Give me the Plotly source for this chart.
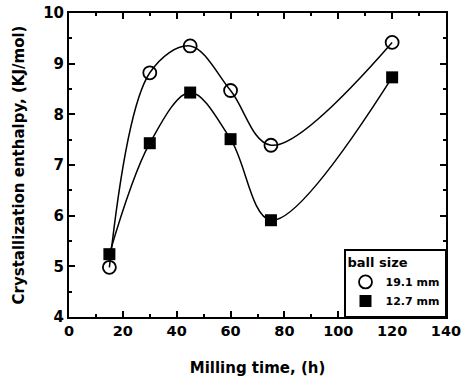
import plotly.graph_objects as go

milling_time = [15, 30, 45, 60, 75, 120]
enthalpy_19_1 = [4.98, 8.82, 9.35, 8.47, 7.39, 9.42]
enthalpy_12_7 = [5.24, 7.43, 8.43, 7.51, 5.91, 8.73]
series_names = ["19.1 mm", "12.7 mm"]

FONT = "DejaVu Sans, Liberation Sans, sans-serif"

circle_marker = dict(symbol="circle-open", size=13, color="black", line=dict(width=1.8))
square_marker = dict(symbol="square", size=12, color="black")
curve = dict(shape="spline", smoothing=1.0, color="black", width=1.5)

fig = go.Figure()
fig.add_trace(go.Scatter(x=milling_time, y=enthalpy_19_1, mode="lines+markers",
                         line=curve, marker=circle_marker, showlegend=False))
fig.add_trace(go.Scatter(x=milling_time, y=enthalpy_12_7, mode="lines+markers",
                         line=curve, marker=square_marker, showlegend=False))
# legend entries (markers only)
fig.add_trace(go.Scatter(x=[None], y=[None], mode="markers", name=series_names[0],
                         marker=circle_marker))
fig.add_trace(go.Scatter(x=[None], y=[None], mode="markers", name=series_names[1],
                         marker=square_marker))

axis_common = dict(
    showline=True, linecolor="black", linewidth=2, mirror="ticks",
    ticks="inside", ticklen=6, tickwidth=1.5, tickcolor="black",
    showgrid=False, zeroline=False, automargin=False,
    ticklabeloverflow="allow",
)

fig.update_xaxes(
    range=[0, 140], dtick=20, tick0=0,
    minor=dict(dtick=10, ticks="inside", ticklen=3, tickcolor="black"),
    tickfont=dict(family=FONT, size=14.5, color="black", weight="bold"),
    title=dict(text="Milling time, (h)", standoff=24,
               font=dict(family=FONT, size=15, color="black", weight="bold")),
    **axis_common,
)
fig.update_yaxes(
    range=[4, 10], dtick=1, tick0=4,
    minor=dict(dtick=0.5, ticks="inside", ticklen=3, tickcolor="black"),
    tickfont=dict(family=FONT, size=15, color="black", weight="bold"),
    title=dict(text="Crystallization enthalpy, (KJ/mol)",
               font=dict(family=FONT, size=15, color="black", weight="bold")),
    **axis_common,
)

fig.update_layout(
    width=461, height=382,
    margin=dict(l=69, r=15, t=13, b=65),
    paper_bgcolor="white", plot_bgcolor="white",
    showlegend=True,
    legend=dict(
        title=dict(text="ball size", font=dict(family=FONT, size=13, color="black", weight="bold")),
        x=1, y=0, xanchor="right", yanchor="bottom",
        bordercolor="black", borderwidth=1.5, bgcolor="white",
        font=dict(family=FONT, size=11, color="black", weight="bold"),
        itemwidth=30, tracegroupgap=0,
    ),
)

fig.write_html("out.html", config={"displayModeBar": False},
               post_script="document.body.style.margin='0';document.body.style.overflow='hidden';")
